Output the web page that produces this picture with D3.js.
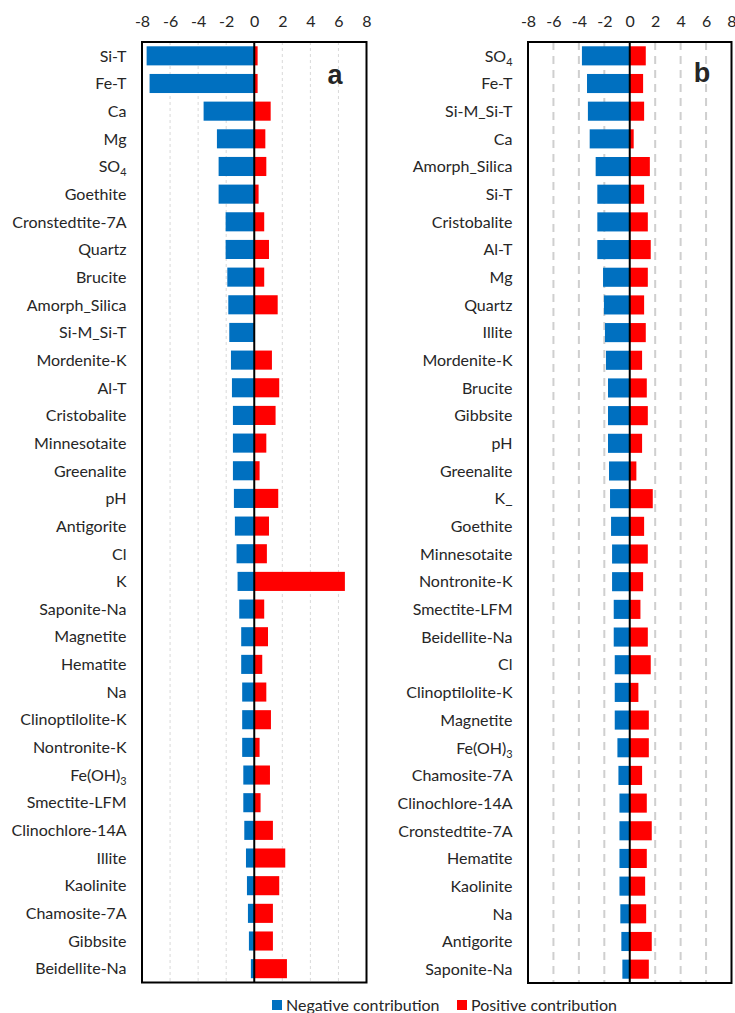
<!DOCTYPE html>
<html>
<head>
<meta charset="utf-8">
<script src="https://cdn.jsdelivr.net/npm/d3@7"></script>
<style>
  body { margin: 0; background: #fff; }
  text { font-family: Lato, "Open Sans", sans-serif; fill: #262626; }
</style>
</head>
<body>
<svg id="chart" width="735" height="1013"></svg>
<script>
// Axis ticks shared by both panels
const tickValues = [-8, -6, -4, -2, 0, 2, 4, 6, 8];

// Panel a
const catsA = ["Si-T", "Fe-T", "Ca", "Mg", "SO4", "Goethite", "Cronstedtite-7A", "Quartz",
  "Brucite", "Amorph_Silica", "Si-M_Si-T", "Mordenite-K", "Al-T", "Cristobalite",
  "Minnesotaite", "Greenalite", "pH", "Antigorite", "Cl", "K", "Saponite-Na", "Magnetite",
  "Hematite", "Na", "Clinoptilolite-K", "Nontronite-K", "Fe(OH)3", "Smectite-LFM",
  "Clinochlore-14A", "Illite", "Kaolinite", "Chamosite-7A", "Gibbsite", "Beidellite-Na"];
const negA = [-7.67, -7.46, -3.61, -2.66, -2.54, -2.54, -2.04, -2.04, -1.92, -1.85, -1.78,
  -1.66, -1.59, -1.52, -1.52, -1.52, -1.45, -1.38, -1.26, -1.19, -1.07, -0.93, -0.93, -0.86,
  -0.86, -0.86, -0.78, -0.78, -0.71, -0.59, -0.52, -0.45, -0.38, -0.24];
const posA = [0.24, 0.24, 1.17, 0.79, 0.86, 0.31, 0.71, 1.05, 0.71, 1.67, 0,
  1.26, 1.78, 1.52, 0.86, 0.38, 1.71, 1.05, 0.9, 6.46, 0.71, 0.98, 0.57, 0.86,
  1.19, 0.38, 1.12, 0.45, 1.33, 2.21, 1.78, 1.33, 1.33, 2.33];

// Panel b
const catsB = ["SO4", "Fe-T", "Si-M_Si-T", "Ca", "Amorph_Silica", "Si-T", "Cristobalite", "Al-T",
  "Mg", "Quartz", "Illite", "Mordenite-K", "Brucite", "Gibbsite", "pH", "Greenalite", "K_",
  "Goethite", "Minnesotaite", "Nontronite-K", "Smectite-LFM", "Beidellite-Na", "Cl",
  "Clinoptilolite-K", "Magnetite", "Fe(OH)3", "Chamosite-7A", "Clinochlore-14A",
  "Cronstedtite-7A", "Hematite", "Kaolinite", "Na", "Antigorite", "Saponite-Na"];
const negB = [-3.76, -3.36, -3.29, -3.15, -2.68, -2.55, -2.55, -2.55, -2.1, -2.03, -1.95,
  -1.87, -1.71, -1.71, -1.71, -1.63, -1.55, -1.47, -1.39, -1.39, -1.26, -1.26, -1.18,
  -1.18, -1.18, -0.97, -0.89, -0.81, -0.81, -0.81, -0.81, -0.74, -0.66, -0.58];
const posB = [1.26, 1.05, 1.13, 0.31, 1.58, 1.13, 1.42, 1.65, 1.42, 1.13, 1.26,
  0.97, 1.34, 1.42, 0.97, 0.52, 1.81, 1.13, 1.42, 1.05, 0.84, 1.42, 1.65,
  0.68, 1.5, 1.5, 0.97, 1.34, 1.73, 1.34, 1.21, 1.29, 1.73, 1.5];

const legendLabels = ["Negative contribution", "Positive contribution"];
const colors = { neg: "#0070C0", pos: "#FF0000" };

// Chemical formulas that carry a subscript
const subscripted = { "SO4": ["SO", "4"], "Fe(OH)3": ["Fe(OH)", "3"] };

const svg = d3.select("#chart");
const fontSize = 16;

function drawPanel(opts) {
  const { cats, neg, pos, left, right, top, bottom, letter, letterX, letterY, gridStyle } = opts;
  const data = cats.map((c, i) => ({ cat: c, neg: neg[i], pos: pos[i] }));

  const x = d3.scaleLinear().domain([-8, 8]).range([left, right]);
  const y = d3.scaleBand().domain(cats).range([top, bottom])
    .paddingInner(0.31).paddingOuter(0.155);

  const g = svg.append("g");

  // dashed gridlines
  g.append("g").selectAll("line")
    .data(tickValues.filter(v => v !== 0 && Math.abs(v) !== 8))
    .join("line")
    .attr("x1", d => x(d)).attr("x2", d => x(d))
    .attr("y1", top).attr("y2", bottom)
    .attr("stroke", gridStyle.color)
    .attr("stroke-width", gridStyle.width)
    .attr("stroke-dasharray", gridStyle.dash);

  // negative bars
  g.append("g").selectAll("rect")
    .data(data)
    .join("rect")
    .attr("x", d => x(d.neg))
    .attr("width", d => x(0) - x(d.neg))
    .attr("y", d => y(d.cat))
    .attr("height", y.bandwidth())
    .attr("fill", colors.neg);

  // positive bars
  g.append("g").selectAll("rect")
    .data(data.filter(d => d.pos > 0))
    .join("rect")
    .attr("x", x(0))
    .attr("width", d => x(d.pos) - x(0))
    .attr("y", d => y(d.cat))
    .attr("height", y.bandwidth())
    .attr("fill", colors.pos);

  // zero line
  g.append("line")
    .attr("x1", x(0)).attr("x2", x(0))
    .attr("y1", top).attr("y2", bottom)
    .attr("stroke", "#000").attr("stroke-width", 2);

  // frame
  g.append("rect")
    .attr("x", left).attr("y", top)
    .attr("width", right - left).attr("height", bottom - top)
    .attr("fill", "none").attr("stroke", "#000").attr("stroke-width", 2);

  // top axis (labels only)
  const axis = d3.axisTop(x).tickValues(tickValues).tickSize(0).tickPadding(0)
    .tickFormat(d3.format("d"));
  const ax = g.append("g").attr("transform", `translate(0, 27)`).call(axis);
  ax.select(".domain").remove();
  ax.selectAll("text")
    .style("font-family", "Lato, sans-serif")
    .style("font-size", fontSize + "px")
    .attr("fill", "#262626")
    .text(d => d < 0 ? "-" + Math.abs(d) : d);

  // category labels
  const labels = g.append("g").selectAll("text")
    .data(cats)
    .join("text")
    .attr("x", left - 15.5)
    .attr("y", d => y(d) + y.bandwidth() / 2)
    .attr("dy", "0.36em")
    .attr("text-anchor", "end")
    .style("font-size", fontSize + "px");
  labels.each(function (d) {
    const t = d3.select(this);
    if (subscripted[d]) {
      t.append("tspan").text(subscripted[d][0]);
      t.append("tspan").attr("dy", 4).style("font-size", (fontSize * 0.68) + "px")
        .text(subscripted[d][1]);
    } else {
      t.text(d);
    }
  });

  // panel letter
  g.append("text")
    .attr("x", letterX).attr("y", letterY)
    .attr("text-anchor", "middle")
    .attr("dy", "0.36em")
    .style("font-family", "'Liberation Sans', Arial, sans-serif")
    .style("font-weight", "bold")
    .style("font-size", "27px")
    .attr("fill", "#111")
    .text(letter);
}

drawPanel({
  cats: catsA, neg: negA, pos: posA,
  left: 142, right: 366.5, top: 42, bottom: 982.5,
  letter: "a", letterX: 335, letterY: 74,
  gridStyle: { color: "#d9d9d9", width: 1, dash: "3,3" }
});

drawPanel({
  cats: catsB, neg: negB, pos: posB,
  left: 528, right: 731.5, top: 42, bottom: 983,
  letter: "b", letterX: 702, letterY: 72,
  gridStyle: { color: "#cfcfcf", width: 2, dash: "8,6" }
});

// legend
const legend = svg.append("g").selectAll("g")
  .data(legendLabels)
  .join("g")
  .attr("transform", (d, i) => `translate(${i === 0 ? 272 : 457}, 1000)`);
legend.append("rect")
  .attr("width", 10).attr("height", 10)
  .attr("fill", (d, i) => i === 0 ? colors.neg : colors.pos);
legend.append("text")
  .attr("x", 14).attr("y", 5).attr("dy", "0.36em")
  .style("font-size", fontSize + "px")
  .text(d => d);
</script>
</body>
</html>
